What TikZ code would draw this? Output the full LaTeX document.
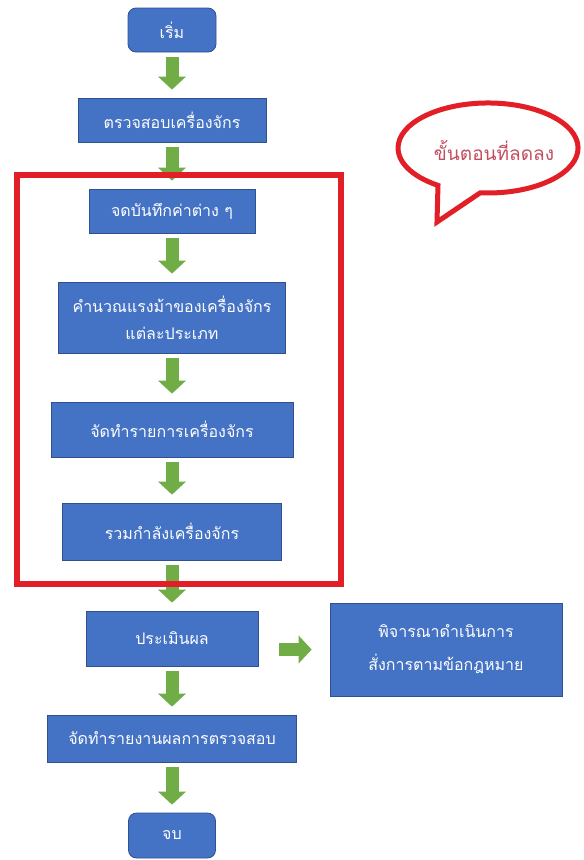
\documentclass[tikz,border=0pt]{standalone}
\usepackage{fontspec}
\newfontfamily\thaifont[Script=Thai]{Loma}
\usetikzlibrary{arrows.meta}
\definecolor{boxblue}{RGB}{68,114,196}
\definecolor{boxedge}{RGB}{47,82,143}
\definecolor{arrowgreen}{RGB}{112,173,71}
\definecolor{markred}{RGB}{226,30,38}
\definecolor{notetext}{RGB}{196,78,96}

\begin{document}
\begin{tikzpicture}[x = 1pt, y = -1pt,
    stepbox/.style = {draw = boxedge, line width = .8pt, fill = boxblue, text = white,
                      font = \thaifont\fontsize{16}{19}\selectfont,
                      inner sep = 0pt, align = center},
    endbox/.style = {stepbox, rounded corners = 8pt},
    flow/.style = {arrowgreen, line width = 13pt,
                   -{Triangle[width = 28pt, length = 13pt, line width = 0pt]},
                   shorten <= 5pt, shorten >= 8pt}]
      \useasboundingbox (0,0) rectangle (584,860);
      \node [endbox, minimum width = 88pt, minimum height = 44pt] (start) at (172,30) {เริ่ม};
      \node [stepbox, minimum width = 188pt, minimum height = 44pt] (check) at (172,120) {ตรวจสอบเครื่องจักร};
      \node [stepbox, minimum width = 166pt, minimum height = 44pt] (record) at (172,211) {จดบันทึกค่าต่าง ๆ};
      \node [stepbox, minimum width = 227pt, minimum height = 71pt] (calc) at (172,317.5)
        {คำนวณแรงม้าของเครื่องจักร\\[8pt]แต่ละประเภท};
      \node [stepbox, minimum width = 242pt, minimum height = 55pt] (list) at (172,429.5) {จัดทำรายการเครื่องจักร};
      \node [stepbox, minimum width = 219pt, minimum height = 57pt] (sum) at (172,531.5) {รวมกำลังเครื่องจักร};
      \node [stepbox, minimum width = 172pt, minimum height = 55pt] (eval) at (172,638.5) {ประเมินผล};
      \node [stepbox, minimum width = 232pt, minimum height = 93pt] (order) at (446,649.5)
        {พิจารณาดำเนินการ\\[14pt]สั่งการตามข้อกฎหมาย};
      \node [stepbox, minimum width = 249pt, minimum height = 47pt] (report) at (172,738.5) {จัดทำรายงานผลการตรวจสอบ};
      \node [endbox, minimum width = 87pt, minimum height = 45pt] (finish) at (172,835.5) {จบ};
      \draw [flow] (start) -- (check);
      \draw [flow] (check) -- (record);
      \draw [flow] (record) -- (calc);
      \draw [flow] (calc) -- (list);
      \draw [flow] (list) -- (sum);
      \draw [flow] (sum) -- (eval);
      \draw [flow] (eval) -- (report);
      \draw [flow] (report) -- (finish);
      \draw [flow, shorten <= 21pt, shorten >= 18pt] (order.west -| eval.east) -- (order.west);
      \draw [markred, line width = 6pt] (16.5,175) rectangle (341,584);
      \draw [markred, line width = 5pt, fill = white] (480.2,192.8)
        arc [start angle = 95, end angle = -236.2, x radius = 90, y radius = 45]
        -- (437,222) -- cycle;
      \node [text = notetext, font = \thaifont\fontsize{19}{22}\selectfont] (note) at (494,150) {ขั้นตอนที่ลดลง};
    \end{tikzpicture}
\end{document}
